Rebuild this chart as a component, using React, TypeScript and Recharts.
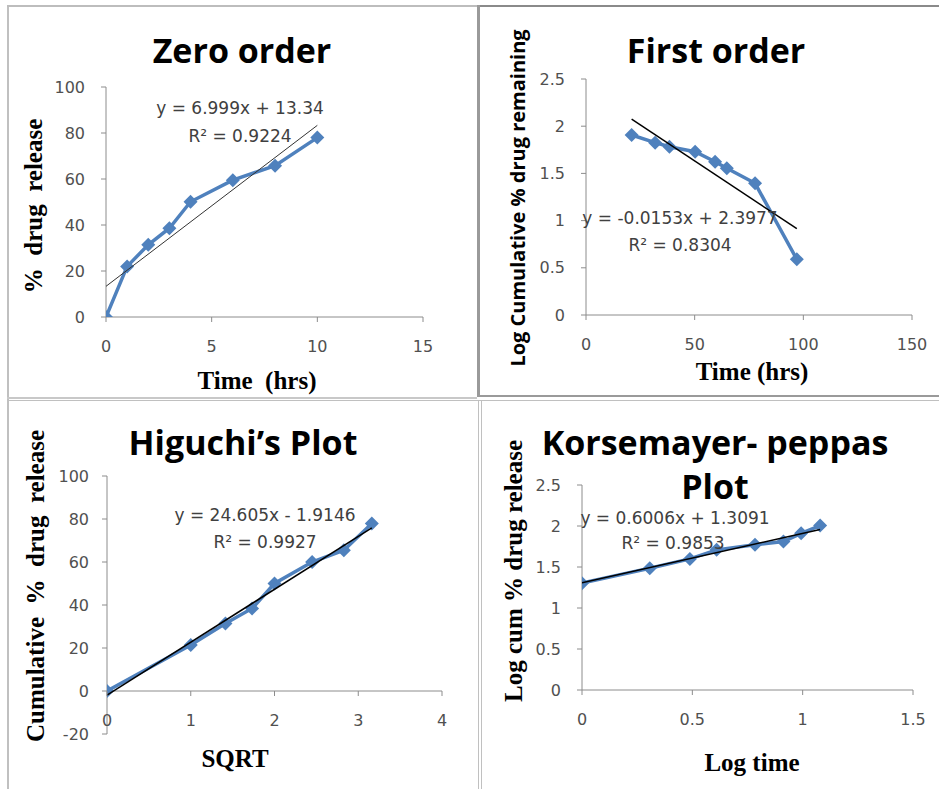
import React from 'react';
import { ScatterChart, Scatter, XAxis, YAxis, ReferenceLine } from 'recharts';

// ---------- Data ----------
// Zero order
const zeroTime = [0, 1, 2, 3, 4, 6, 8, 10];
const zeroRelease = [0, 22, 31.4, 38.6, 50.1, 59.5, 65.8, 78];
const zeroTrendX = [0, 10];
const zeroTrendY = [13.34, 83.33];
const zeroXTicks = [0, 5, 10, 15];
const zeroYTicks = [0, 20, 40, 60, 80, 100];

// First order
const firstX = [21, 31.8, 38.4, 50.2, 59.4, 64.8, 77.8, 97];
const firstY = [1.907, 1.826, 1.783, 1.73, 1.624, 1.554, 1.395, 0.59];
const firstTrendX = [21, 97];
const firstTrendY = [2.076, 0.914];
const firstXTicks = [0, 50, 100, 150];
const firstYTicks = [0, 0.5, 1, 1.5, 2, 2.5];

// Higuchi
const higX = [0, 1, 1.414, 1.732, 2, 2.449, 2.828, 3.162];
const higY = [0, 21.4, 31.4, 38.4, 50, 60, 65.5, 77.9];
const higTrendX = [0, 3.162];
const higTrendY = [-1.91, 75.89];
const higXTicks = [0, 1, 2, 3, 4];
const higYTicks = [-20, 0, 20, 40, 60, 80, 100];

// Korsmeyer-Peppas
const kpX = [0, 0.307, 0.489, 0.61, 0.784, 0.913, 0.993, 1.079];
const kpY = [1.303, 1.485, 1.599, 1.709, 1.77, 1.81, 1.911, 2.005];
const kpTrendX = [0, 1.079];
const kpTrendY = [1.309, 1.957];
const kpXTicks = [0, 0.5, 1, 1.5];
const kpYTicks = [0, 0.5, 1, 1.5, 2, 2.5];

// ---------- Styles ----------
const BLUE = '#4F81BD';
const AXIS = '#8c8c8c';
const TICK_COLOR = '#505050';
const tickFont = { fontFamily: 'DejaVu Sans', fontSize: 16, fill: TICK_COLOR };

const zip = (xs: number[], ys: number[]) => xs.map((x, i) => ({ x, y: ys[i] }));

const Diamond = (p: any) => {
  const { cx, cy } = p;
  if (cx == null || cy == null) return <g />;
  const s = 7;
  return <path d={`M${cx},${cy - s}L${cx + s},${cy}L${cx},${cy + s}L${cx - s},${cy}Z`} fill={BLUE} />;
};
const NoShape = () => <g />;

type PanelProps = {
  left: number; top: number; width: number; height: number;
  plot: { l: number; t: number; r: number; b: number };
  xDomain: [number, number]; xTicks: number[];
  yDomain: [number, number]; yTicks: number[];
  data: { x: number; y: number }[];
  trend: { x: number; y: number }[];
  trendColor: string; trendWidth: number;
  yTickMargin: number;
  xAtZero?: boolean;
};

const Panel = (p: PanelProps) => {
  const yW = 50;
  const xH = 40;
  const margin = {
    top: p.plot.t,
    left: p.plot.l - yW,
    right: p.width - p.plot.r,
    bottom: p.height - p.plot.b - xH,
  };
  const plotH = p.plot.b - p.plot.t;
  const zeroOffset = p.xAtZero ? (plotH * (0 - p.yDomain[0])) / (p.yDomain[1] - p.yDomain[0]) : 0;
  const ZeroTick = (tp: any) => {
    const { x, y, payload } = tp;
    const ay = y - zeroOffset;
    return (
      <g>
        <line x1={x} x2={x} y1={ay} y2={ay + 5} stroke={AXIS} />
        <text x={x} y={ay + 29} textAnchor="middle" dominantBaseline="central" {...tickFont}>
          {payload.value}
        </text>
      </g>
    );
  };
  return (
    <div style={{ position: 'absolute', left: p.left, top: p.top }}>
      <ScatterChart width={p.width} height={p.height} margin={margin}>
        <XAxis
          type="number"
          dataKey="x"
          domain={p.xDomain}
          ticks={p.xTicks}
          interval={0}
          height={xH}
          stroke={AXIS}
          axisLine={p.xAtZero ? false : { stroke: AXIS }}
          tickLine={p.xAtZero ? false : { stroke: AXIS }}
          tickSize={p.xAtZero ? 0 : 5}
          tickMargin={p.xAtZero ? 0 : 19}
          tick={p.xAtZero ? ZeroTick : tickFont}
          allowDataOverflow
        />
        <YAxis
          type="number"
          dataKey="y"
          domain={p.yDomain}
          ticks={p.yTicks}
          interval={0}
          width={yW}
          axisLine={{ stroke: AXIS }}
          tickLine={{ stroke: AXIS }}
          tickSize={5}
          tickMargin={p.yTickMargin}
          tick={tickFont}
          allowDataOverflow
        />
        {p.xAtZero && <ReferenceLine y={0} stroke={AXIS} ifOverflow="extendDomain" />}
        <Scatter
          data={p.data}
          fill={BLUE}
          line={{ stroke: BLUE, strokeWidth: 3.5 }}
          shape={Diamond}
          isAnimationActive={false}
        />
        <Scatter
          data={p.trend}
          fill="none"
          line={{ stroke: p.trendColor, strokeWidth: p.trendWidth }}
          shape={NoShape}
          isAnimationActive={false}
        />
      </ScatterChart>
    </div>
  );
};

const Txt = ({ x, y, children, style, rotate }: any) => (
  <div
    style={{
      position: 'absolute',
      left: x,
      top: y,
      transform: `translate(-50%, -50%)${rotate ? ' rotate(-90deg)' : ''}`,
      whiteSpace: 'pre',
      lineHeight: 1,
      ...style,
    }}
  >
    {children}
  </div>
);

const titleStyle = { fontFamily: 'Open Sans', fontWeight: 700, fontSize: 34, color: '#000' };
const serifLabel = { fontFamily: 'Liberation Serif', fontWeight: 700, fontSize: 25, color: '#000' };
const eqStyle = { fontFamily: 'DejaVu Sans', fontSize: 17, color: '#404040' };

const Line = ({ x, y, w, h, c }: any) => (
  <div style={{ position: 'absolute', left: x, top: y, width: w, height: h, background: c }} />
);

export default function App() {
  return (
    <div style={{ position: 'absolute', left: 0, top: 0, width: 939, height: 789, background: '#fff', overflow: 'hidden' }}>
      <Panel
        left={0} top={0} width={470} height={398}
        plot={{ l: 106, t: 87, r: 423, b: 317 }}
        xDomain={[0, 15]} xTicks={zeroXTicks}
        yDomain={[0, 100]} yTicks={zeroYTicks}
        data={zip(zeroTime, zeroRelease)}
        trend={zip(zeroTrendX, zeroTrendY)}
        trendColor="#333" trendWidth={1}
        yTickMargin={16}
      />
      <Panel
        left={470} top={0} width={469} height={398}
        plot={{ l: 116, t: 79, r: 442, b: 315 }}
        xDomain={[0, 150]} xTicks={firstXTicks}
        yDomain={[0, 2.5]} yTicks={firstYTicks}
        data={zip(firstX, firstY)}
        trend={zip(firstTrendX, firstTrendY)}
        trendColor="#000" trendWidth={1.5}
        yTickMargin={16}
      />
      <Panel
        left={0} top={398} width={470} height={391}
        plot={{ l: 107, t: 78, r: 442, b: 336 }}
        xDomain={[0, 4]} xTicks={higXTicks}
        yDomain={[-20, 100]} yTicks={higYTicks}
        data={zip(higX, higY)}
        trend={zip(higTrendX, higTrendY)}
        trendColor="#000" trendWidth={1.5}
        yTickMargin={13}
        xAtZero
      />
      <Panel
        left={470} top={398} width={469} height={391}
        plot={{ l: 112, t: 87, r: 443, b: 292 }}
        xDomain={[0, 1.5]} xTicks={kpXTicks}
        yDomain={[0, 2.5]} yTicks={kpYTicks}
        data={zip(kpX, kpY)}
        trend={zip(kpTrendX, kpTrendY)}
        trendColor="#000" trendWidth={1.5}
        yTickMargin={16}
      />

      {/* Panel borders */}
      <Line x={7} y={5} w={2} h={784} c="#c0c0c0" />
      <Line x={7} y={5} w={470} h={2} c="#bdbdbd" />
      <Line x={480} y={5} w={459} h={2} c="#8a8a8a" />
      <Line x={477} y={5} w={3} h={392} c="#9a9a9a" />
      <Line x={7} y={397} w={470} h={2} c="#c8c8c8" />
      <Line x={480} y={395} w={459} h={2} c="#9a9a9a" />
      <Line x={7} y={400} w={932} h={1} c="#c0c0c0" />
      <Line x={478} y={400} w={1} h={389} c="#c0c0c0" />
      <Line x={481} y={400} w={1} h={389} c="#c0c0c0" />

      {/* Zero order texts */}
      <Txt x={242} y={50} style={titleStyle}>Zero order</Txt>
      <Txt x={240} y={108} style={eqStyle}>y = 6.999x + 13.34</Txt>
      <Txt x={240} y={136} style={eqStyle}>R² = 0.9224</Txt>
      <Txt x={33} y={206} rotate style={serifLabel}>%  drug  release</Txt>
      <Txt x={257} y={380} style={serifLabel}>Time  (hrs)</Txt>

      {/* First order texts */}
      <Txt x={716} y={50} style={titleStyle}>First order</Txt>
      <Txt x={680} y={218} style={eqStyle}>y = -0.0153x + 2.3977</Txt>
      <Txt x={680} y={245} style={eqStyle}>R² = 0.8304</Txt>
      <Txt x={518} y={198} rotate style={{ fontFamily: 'Open Sans', fontWeight: 700, fontSize: 20, color: '#000' }}>
        Log Cumulative % drug remaining
      </Txt>
      <Txt x={752} y={371} style={serifLabel}>Time (hrs)</Txt>

      {/* Higuchi texts */}
      <Txt x={243} y={442} style={titleStyle}>Higuchi’s Plot</Txt>
      <Txt x={265} y={515} style={eqStyle}>y = 24.605x - 1.9146</Txt>
      <Txt x={265} y={542} style={eqStyle}>R² = 0.9927</Txt>
      <Txt x={35} y={586} rotate style={serifLabel}>Cumulative  %  drug  release</Txt>
      <Txt x={235} y={758} style={serifLabel}>SQRT</Txt>

      {/* Korsmeyer-Peppas texts */}
      <Txt x={715} y={442} style={titleStyle}>Korsemayer- peppas</Txt>
      <Txt x={715} y={486} style={titleStyle}>Plot</Txt>
      <Txt x={675} y={518} style={eqStyle}>y = 0.6006x + 1.3091</Txt>
      <Txt x={673} y={543} style={eqStyle}>R² = 0.9853</Txt>
      <Txt x={513} y={571} rotate style={serifLabel}>Log cum % drug release</Txt>
      <Txt x={752} y={762} style={serifLabel}>Log time</Txt>
    </div>
  );
}
